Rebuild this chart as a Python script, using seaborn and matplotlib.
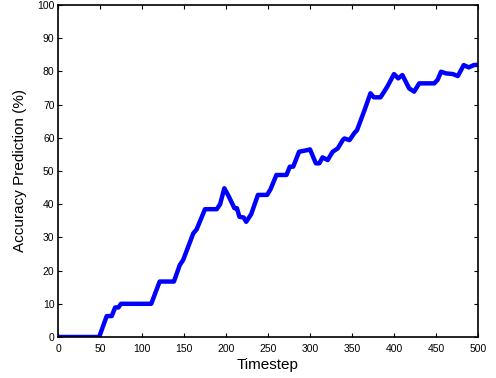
import numpy as np
import pandas as pd
import seaborn as sns
import matplotlib
matplotlib.use('Agg')
import matplotlib.pyplot as plt

# values (breakpoints)
timestep = [0, 49, 58, 64, 68, 72, 75, 111, 121, 138, 145, 149, 161, 165, 175,
            189, 193, 198, 203, 210, 213, 216, 221, 224, 230, 238, 249, 253,
            260, 272, 276, 280, 287, 297, 300, 307, 311, 315, 321, 327, 333,
            339, 341, 347, 353, 356, 365, 372, 376, 384, 392, 400, 405, 410,
            418, 424, 430, 448, 452, 456, 462, 470, 476, 483, 489, 495, 500]
accuracy = [0, 0, 6.3, 6.3, 8.9, 8.9, 10, 10, 16.7, 16.7, 21.7, 23.2, 31.2, 32.4, 38.5,
            38.5, 40, 44.8, 42.5, 38.8, 38.8, 36.2, 36, 34.7, 37, 42.8, 42.8, 44.5,
            48.8, 48.8, 51.3, 51.3, 55.8, 56.3, 56.5, 52.3, 52.3, 54.1, 53.3, 55.8, 56.8,
            59.3, 59.8, 59.3, 61.5, 62.3, 68.4, 73.4, 72.2, 72.2, 75.4, 79.2, 77.9, 78.9,
            74.9, 73.9, 76.4, 76.4, 77.5, 79.9, 79.4, 79.2, 78.6, 81.9, 81.2, 81.9, 82]

df = pd.DataFrame({'Timestep': timestep, 'Accuracy': accuracy})

sns.set_style('ticks')
plt.rcParams['font.family'] = ['Liberation Sans', 'DejaVu Sans']
plt.rcParams['text.color'] = 'black'
plt.rcParams['axes.labelcolor'] = 'black'

fig = plt.figure(figsize=(4.96, 3.78), dpi=100)
ax = fig.add_axes([58 / 496, 41 / 378, 420 / 496, 332 / 378])

sns.lineplot(data=df, x='Timestep', y='Accuracy', ax=ax, color='#0000ff', linewidth=3.2)

ax.set_xlim(0, 500)
ax.set_ylim(0, 100)
ax.set_xticks(np.arange(0, 501, 50))
ax.set_yticks(np.arange(0, 101, 10))
ax.tick_params(direction='in', top=True, right=True, length=3, width=0.8,
               labelsize=7.5, colors='black', pad=2.5)
ax.tick_params(axis='x', pad=5)
for s in ax.spines.values():
    s.set_visible(True)
    s.set_linewidth(1.2)
    s.set_color('black')
ax.set_xlabel('Timestep', fontsize=11, labelpad=3)
ax.set_ylabel('Accuracy Prediction (%)', fontsize=11, labelpad=7)

fig.savefig('out.png', dpi=100)
